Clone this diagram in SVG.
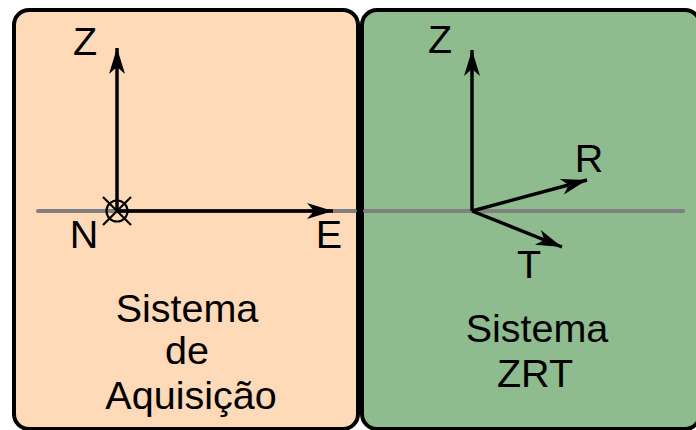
<svg xmlns="http://www.w3.org/2000/svg" width="696" height="430" viewBox="0 0 696 430">
  <style>
    .box { stroke: #000; stroke-width: 4; }
    .ref { stroke: #808080; stroke-width: 4; fill: none; }
    .axis { stroke: #000; stroke-width: 3.5; fill: none; }
    .thin { stroke: #000; stroke-width: 2.2; fill: none; }
    text { font-family: "Liberation Sans", Arial, sans-serif; font-size: 39.5px; fill: #000; text-anchor: middle; }
  </style>
  <defs>
    <marker id="head" viewBox="-27 -9 29 18" refX="0" refY="0" markerWidth="29" markerHeight="18" markerUnits="userSpaceOnUse" orient="auto">
      <path d="M0,0 L-26,-8 L-19,0 L-26,8 Z" fill="#000"/>
    </marker>
  </defs>

  <!-- acquisition frame (Z, N, E) -->
  <g id="sistema-aquisicao">
    <rect class="box" x="14" y="10" width="344" height="419" rx="15" fill="#FFDAB9"/>
    <text x="187" y="322">Sistema</text>
    <text x="187" y="364">de</text>
    <text x="191" y="409">Aquisição</text>
  </g>

  <!-- rotated frame (Z, R, T) -->
  <g id="sistema-zrt">
    <rect class="box" x="362" y="10" width="338" height="419" rx="15" fill="#8FBC8F"/>
    <text x="537" y="342">Sistema</text>
    <text x="535" y="387">ZRT</text>
  </g>

  <!-- horizontal reference line and axes -->
  <g id="connectors">
    <line class="ref" x1="38" y1="211" x2="355" y2="211" stroke-linecap="round"/>
    <line class="ref" x1="365" y1="211" x2="683" y2="211" stroke-linecap="round"/>

    <!-- acquisition axes -->
    <line class="axis" x1="117" y1="211" x2="117" y2="48" marker-end="url(#head)"/>
    <line class="axis" x1="117" y1="211" x2="333" y2="211" marker-end="url(#head)"/>
    <!-- N axis pointing into the page -->
    <circle class="thin" cx="117" cy="211" r="10.5"/>
    <line class="thin" x1="103" y1="197" x2="131" y2="225"/>
    <line class="thin" x1="131" y1="197" x2="103" y2="225"/>

    <!-- ZRT axes -->
    <line class="axis" x1="472" y1="211" x2="472" y2="50" marker-end="url(#head)"/>
    <line class="axis" x1="472" y1="211" x2="587" y2="180" marker-end="url(#head)"/>
    <line class="axis" x1="472" y1="211" x2="562" y2="247" marker-end="url(#head)"/>
  </g>

  <!-- axis labels -->
  <g id="labels">
    <text x="85" y="55">Z</text>
    <text x="84" y="248">N</text>
    <text x="329" y="248">E</text>
    <text x="440" y="53">Z</text>
    <text x="589" y="172">R</text>
    <text x="529" y="278">T</text>
  </g>
</svg>
